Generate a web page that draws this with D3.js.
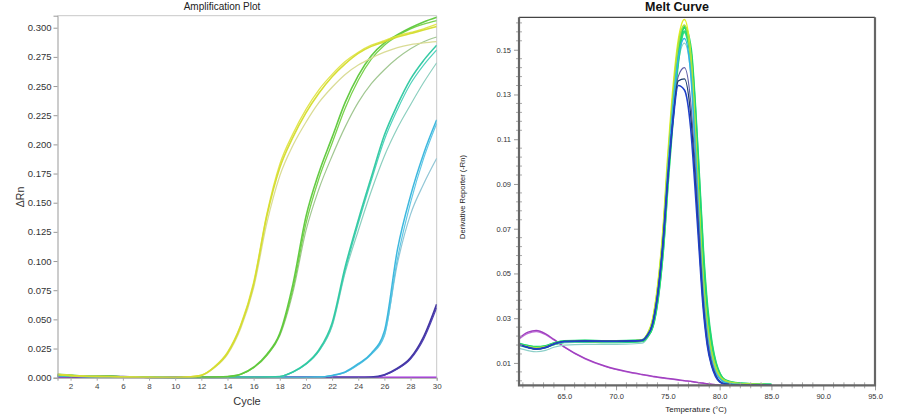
<!DOCTYPE html>
<html><head><meta charset="utf-8">
<script src="https://cdn.jsdelivr.net/npm/d3@7"></script>
<style>
html,body{margin:0;padding:0;background:#fff;}
svg{display:block;font-family:"Liberation Sans",Arial,sans-serif;}
</style></head>
<body>
<svg id="c" width="898" height="414"></svg>
<script>
// ---------- Amplification plot data ----------
const cycles = d3.range(1, 31);
const ampYTicks = [0, 0.025, 0.05, 0.075, 0.1, 0.125, 0.15, 0.175, 0.2, 0.225, 0.25, 0.275, 0.3];
const ampXTicks = [2,4,6,8,10,12,14,16,18,20,22,24,26,28,30];
const ampPurple    = [0.0004,0.0004,0.0003,0.0003,0.0004,0.0003,0.0003,0.0004,0.0005,0.0006,0.0007,0.0008,0.0008,0.0008,0.0007,0.0007,0.0006,0.0006,0.0006,0.0005,0.0005,0.0004,0.0004,0.0003,0.0003,0.0003,0.0003,0.0003,0.0003,0.0003];
const ampYellowA   = [0.0025,0.0018,0.0012,0.0010,0.0010,0.0006,0.0004,0.0003,0.0002,0.0002,0.0006,0.0020,0.0090,0.0210,0.0440,0.0800,0.1380,0.1800,0.2060,0.2270,0.2440,0.2580,0.2690,0.2780,0.2840,0.2880,0.2920,0.2950,0.2980,0.3010];
const ampYellowB   = [0.0030,0.0020,0.0014,0.0011,0.0009,0.0005,0.0004,0.0002,0.0002,0.0003,0.0007,0.0022,0.0095,0.0220,0.0450,0.0820,0.1400,0.1830,0.2090,0.2300,0.2470,0.2600,0.2710,0.2790,0.2850,0.2890,0.2930,0.2960,0.2990,0.3030];
const ampPaleYellow= [0.0028,0.0019,0.0013,0.0010,0.0010,0.0006,0.0004,0.0003,0.0002,0.0002,0.0005,0.0018,0.0085,0.0200,0.0420,0.0770,0.1320,0.1730,0.1990,0.2190,0.2360,0.2490,0.2600,0.2680,0.2740,0.2790,0.2830,0.2855,0.2870,0.2880];
const ampGreenA    = [0.0030,0.0022,0.0015,0.0012,0.0012,0.0007,0.0004,0.0003,0.0002,0.0002,0.0002,0.0003,0.0005,0.0010,0.0030,0.0090,0.0200,0.0380,0.0800,0.1380,0.1760,0.2060,0.2360,0.2590,0.2760,0.2870,0.2940,0.3000,0.3050,0.3090];
const ampGreenB    = [0.0026,0.0020,0.0014,0.0011,0.0013,0.0008,0.0005,0.0003,0.0002,0.0001,0.0002,0.0003,0.0005,0.0009,0.0028,0.0085,0.0190,0.0370,0.0760,0.1320,0.1710,0.2010,0.2310,0.2550,0.2730,0.2850,0.2930,0.2990,0.3030,0.3060];
const ampSageGreen = [0.0024,0.0019,0.0013,0.0011,0.0012,0.0007,0.0004,0.0003,0.0002,0.0002,0.0002,0.0003,0.0005,0.0009,0.0027,0.0085,0.0190,0.0360,0.0730,0.1260,0.1620,0.1900,0.2150,0.2360,0.2520,0.2640,0.2740,0.2820,0.2880,0.2920];
const ampTealA     = [0.0020,0.0016,0.0012,0.0010,0.0010,0.0006,0.0004,0.0003,0.0002,0.0001,0.0001,0.0002,0.0002,0.0002,0.0003,0.0003,0.0005,0.0010,0.0050,0.0120,0.0240,0.0470,0.0950,0.1350,0.1720,0.2080,0.2340,0.2560,0.2720,0.2850];
const ampTealB     = [0.0021,0.0017,0.0012,0.0010,0.0011,0.0006,0.0004,0.0003,0.0002,0.0001,0.0001,0.0002,0.0002,0.0002,0.0003,0.0003,0.0005,0.0010,0.0048,0.0115,0.0230,0.0450,0.0920,0.1320,0.1690,0.2040,0.2300,0.2520,0.2680,0.2810];
const ampPaleTeal  = [0.0019,0.0015,0.0011,0.0010,0.0010,0.0006,0.0004,0.0003,0.0002,0.0001,0.0001,0.0002,0.0002,0.0002,0.0003,0.0003,0.0005,0.0010,0.0048,0.0115,0.0230,0.0440,0.0900,0.1260,0.1600,0.1900,0.2140,0.2340,0.2530,0.2700];
const ampCyanA     = [0.0018,0.0014,0.0011,0.0009,0.0009,0.0005,0.0004,0.0003,0.0002,0.0001,0.0001,0.0001,0.0001,0.0002,0.0002,0.0002,0.0002,0.0002,0.0002,0.0003,0.0005,0.0020,0.0050,0.0120,0.0210,0.0400,0.1100,0.1560,0.1920,0.2210];
const ampCyanB     = [0.0017,0.0013,0.0010,0.0009,0.0009,0.0005,0.0004,0.0003,0.0002,0.0001,0.0001,0.0001,0.0001,0.0002,0.0002,0.0002,0.0002,0.0002,0.0002,0.0003,0.0005,0.0018,0.0045,0.0110,0.0200,0.0360,0.1020,0.1500,0.1880,0.2180];
const ampPaleCyan  = [0.0016,0.0013,0.0010,0.0009,0.0008,0.0005,0.0004,0.0003,0.0002,0.0001,0.0001,0.0001,0.0001,0.0002,0.0002,0.0002,0.0002,0.0002,0.0002,0.0003,0.0005,0.0018,0.0046,0.0112,0.0205,0.0370,0.0980,0.1400,0.1660,0.1880];
const ampIndigoA   = [0.0012,0.0010,0.0009,0.0010,0.0012,0.0008,0.0005,0.0004,0.0004,0.0002,0.0002,0.0002,0.0002,0.0002,0.0002,0.0002,0.0002,0.0002,0.0002,0.0002,0.0002,0.0002,0.0002,0.0002,0.0005,0.0025,0.0080,0.0170,0.0350,0.0630];
const ampIndigoB   = [0.0011,0.0010,0.0009,0.0010,0.0011,0.0008,0.0005,0.0004,0.0004,0.0002,0.0002,0.0002,0.0002,0.0002,0.0002,0.0002,0.0002,0.0002,0.0002,0.0002,0.0002,0.0002,0.0002,0.0002,0.0004,0.0022,0.0075,0.0160,0.0330,0.0600];

const ampSeries = [
  {values: ampPurple, color: "#a020e0", w: 1.5},
  {values: ampIndigoA, color: "#3a2c9e", w: 1.8},
  {values: ampIndigoB, color: "#4a3ab0", w: 1.2},
  {values: ampPaleCyan, color: "#8cc4d4", w: 1.2},
  {values: ampCyanB, color: "#58c4e4", w: 1.2},
  {values: ampCyanA, color: "#34b4dc", w: 1.5},
  {values: ampPaleTeal, color: "#86ccbc", w: 1.2},
  {values: ampTealB, color: "#48d0b8", w: 1.2},
  {values: ampTealA, color: "#2cc8a0", w: 1.6},
  {values: ampSageGreen, color: "#9cc48c", w: 1.2},
  {values: ampGreenB, color: "#74d046", w: 1.3},
  {values: ampGreenA, color: "#5cc83a", w: 1.6},
  {values: ampPaleYellow, color: "#d8da90", w: 1.3},
  {values: ampYellowB, color: "#e0e448", w: 1.3},
  {values: ampYellowA, color: "#d4dc2c", w: 1.6}
];

// ---------- Melt curve data ----------
const meltTemps = [60.6,61.5,62.3,63.2,64.0,65.0,67.0,69.0,71.0,72.5,73.0,73.5,74.0,74.5,75.0,75.5,76.0,76.6,77.2,77.6,78.0,78.4,78.8,79.2,79.6,80.0,80.5,81.5,83.0,85.0];
const meltYTicks = [0.01, 0.03, 0.05, 0.07, 0.09, 0.11, 0.13, 0.15];
const meltXTicks = [65, 70, 75, 80, 85, 90, 95];
const meltMagentaA = [0.0210,0.0238,0.0245,0.0230,0.0205,0.0172,0.0120,0.0085,0.0062,0.0049,0.0045,0.0041,0.0037,0.0034,0.0031,0.0028,0.0025,0.0021,0.0018,0.0015,0.0012,0.0010,0.0007,0.0005,0.0003,0.0001,0.0000,0.0000,0.0000,0.0000];
const meltMagentaB = [0.0205,0.0232,0.0240,0.0226,0.0202,0.0170,0.0118,0.0083,0.0060,0.0047,0.0043,0.0039,0.0035,0.0032,0.0029,0.0026,0.0023,0.0020,0.0017,0.0014,0.0011,0.0009,0.0006,0.0004,0.0002,0.0001,0.0000,0.0000,0.0000,0.0000];
const meltPaleTeal = [0.0165,0.0155,0.0150,0.0156,0.0170,0.0180,0.0183,0.0183,0.0184,0.0188,0.0210,0.0260,0.0390,0.0610,0.0930,0.1220,0.1440,0.1530,0.1400,0.1120,0.0780,0.0450,0.0250,0.0130,0.0070,0.0035,0.0015,0.0006,0.0003,0.0001];
const meltBlue     = [0.0184,0.0170,0.0163,0.0170,0.0185,0.0196,0.0198,0.0197,0.0198,0.0201,0.0222,0.0270,0.0400,0.0620,0.0930,0.1180,0.1340,0.1320,0.1150,0.0900,0.0620,0.0350,0.0180,0.0090,0.0040,0.0015,0.0005,0.0002,0.0001,0.0000];
const meltSlate    = [0.0182,0.0168,0.0161,0.0168,0.0184,0.0195,0.0197,0.0196,0.0197,0.0200,0.0221,0.0270,0.0400,0.0615,0.0920,0.1200,0.1380,0.1420,0.1270,0.1010,0.0700,0.0400,0.0210,0.0110,0.0050,0.0020,0.0007,0.0003,0.0001,0.0000];
const meltCyan     = [0.0180,0.0168,0.0162,0.0168,0.0184,0.0194,0.0196,0.0195,0.0196,0.0200,0.0222,0.0270,0.0400,0.0620,0.0960,0.1250,0.1460,0.1550,0.1400,0.1100,0.0740,0.0420,0.0230,0.0120,0.0060,0.0030,0.0012,0.0004,0.0002,0.0001];
const meltGreenA   = [0.0185,0.0175,0.0170,0.0174,0.0186,0.0196,0.0198,0.0196,0.0197,0.0200,0.0220,0.0265,0.0390,0.0610,0.0940,0.1240,0.1480,0.1600,0.1500,0.1250,0.0920,0.0580,0.0340,0.0190,0.0100,0.0050,0.0022,0.0009,0.0004,0.0001];
const meltGreenB   = [0.0183,0.0173,0.0168,0.0172,0.0185,0.0195,0.0197,0.0195,0.0196,0.0199,0.0219,0.0262,0.0385,0.0600,0.0925,0.1220,0.1460,0.1580,0.1480,0.1230,0.0900,0.0560,0.0320,0.0180,0.0095,0.0048,0.0020,0.0008,0.0004,0.0001];
const meltYellowGreen = [0.0181,0.0171,0.0166,0.0171,0.0185,0.0195,0.0197,0.0196,0.0197,0.0201,0.0226,0.0285,0.0430,0.0660,0.1000,0.1300,0.1520,0.1610,0.1470,0.1180,0.0820,0.0490,0.0280,0.0155,0.0085,0.0042,0.0020,0.0009,0.0005,0.0002];
const meltYellow   = [0.0182,0.0172,0.0168,0.0172,0.0185,0.0195,0.0197,0.0196,0.0197,0.0202,0.0228,0.0290,0.0440,0.0680,0.1030,0.1330,0.1540,0.1635,0.1480,0.1180,0.0820,0.0480,0.0270,0.0150,0.0080,0.0040,0.0020,0.0009,0.0005,0.0002];
const meltDark     = [0.0183,0.0169,0.0162,0.0169,0.0185,0.0196,0.0198,0.0197,0.0198,0.0201,0.0222,0.0270,0.0400,0.0618,0.0925,0.1190,0.1360,0.1370,0.1210,0.0950,0.0650,0.0370,0.0190,0.0095,0.0045,0.0017,0.0006,0.0002,0.0001,0.0000];

const meltSeries = [
  {values: meltMagentaB, color: "#c070d8", w: 1.2},
  {values: meltMagentaA, color: "#a040c0", w: 1.4},
  {values: meltPaleTeal, color: "#8ccfc8", w: 1.2},
  {values: meltGreenB, color: "#30dc80", w: 3},
  {values: meltGreenA, color: "#22d870", w: 3},
  {values: meltYellow, color: "#e4f020", w: 1.6},
  {values: meltYellowGreen, color: "#a8e040", w: 1.6},
  {values: meltCyan, color: "#30b4e4", w: 1.6},
  {values: meltSlate, color: "#6060a8", w: 1.2},
  {values: meltDark, color: "#1c3c6c", w: 1.3},
  {values: meltBlue, color: "#2040c8", w: 1.6}
];

const svg = d3.select("#c");

// ================= LEFT: Amplification Plot =================
const aL = 57.5, aR = 436.7, aT = 15.7, aB = 377.7;
const ax = d3.scaleLinear().domain([1, 30]).range([aL, aR]);
const ay = d3.scaleLinear().domain([0, 0.3103]).range([aB, aT]);

svg.append("text").attr("x", 222).attr("y", 10).attr("text-anchor", "middle")
  .attr("font-size", 10).attr("fill", "#222").text("Amplification Plot");

svg.append("defs").append("clipPath").attr("id", "clipA")
  .append("rect").attr("x", aL).attr("y", aT).attr("width", aR - aL).attr("height", aB - aT + 1);
svg.select("defs").append("clipPath").attr("id", "clipM")
  .append("rect").attr("x", 519).attr("y", 17.3).attr("width", 356).attr("height", 368);

svg.append("path").attr("d", `M${aL},${aT}H${aR}V${aB}`).attr("fill", "none")
  .attr("stroke", "#c8c8c8").attr("stroke-width", 1);

const ampLine = d3.line().x((d, i) => ax(cycles[i])).y(d => ay(d)).curve(d3.curveMonotoneX);
const gA = svg.append("g").attr("clip-path", "url(#clipA)");
gA.selectAll("path").data(ampSeries).join("path")
  .attr("d", d => ampLine(d.values)).attr("fill", "none")
  .attr("stroke", d => d.color).attr("stroke-width", d => d.w)
  .attr("stroke-linejoin", "round").attr("opacity", 0.95);

const ayAxis = svg.append("g").attr("transform", `translate(${aL},0)`)
  .call(d3.axisLeft(ay).tickValues(ampYTicks).tickFormat(d3.format(".3f")).tickSize(4).tickPadding(2));
ayAxis.select(".domain").attr("stroke", "#999");
ayAxis.selectAll(".tick line").attr("stroke", "#999");
ayAxis.selectAll("text").attr("font-size", 9.5).attr("fill", "#333").attr("font-family", "Liberation Sans, Arial, sans-serif");

const axAxis = svg.append("g").attr("transform", `translate(0,${aB})`)
  .call(d3.axisBottom(ax).tickValues(ampXTicks).tickFormat(d3.format("d")).tickSize(3).tickPadding(3));
axAxis.select(".domain").attr("stroke", "#999");
axAxis.selectAll(".tick line").attr("stroke", "#aaa");
axAxis.selectAll("text").attr("font-size", 8).attr("fill", "#444").attr("font-family", "Liberation Sans, Arial, sans-serif");

svg.append("text").attr("x", 247).attr("y", 405).attr("text-anchor", "middle")
  .attr("font-size", 11).attr("fill", "#333").text("Cycle");
svg.append("text").attr("transform", "translate(23.5,197) rotate(-90)").attr("text-anchor", "middle")
  .attr("font-size", 10.5).attr("fill", "#333").text("ΔRn");

// ================= RIGHT: Melt Curve =================
const mL = 519, mR = 875, mT = 17.3, mB = 385.3;
const mx = d3.scaleLinear().domain([60.63, 95]).range([mL, mR]);
const my = d3.scaleLinear().domain([0, 0.1645]).range([mB, mT]);

svg.append("text").attr("x", 677).attr("y", 11).attr("text-anchor", "middle")
  .attr("font-size", 12.5).attr("font-weight", "bold").attr("fill", "#111").text("Melt Curve");

const meltLine = d3.line().x((d, i) => mx(meltTemps[i])).y(d => my(d)).curve(d3.curveMonotoneX);
const gM = svg.append("g").attr("clip-path", "url(#clipM)");
gM.selectAll("path").data(meltSeries).join("path")
  .attr("d", d => meltLine(d.values)).attr("fill", "none")
  .attr("stroke", d => d.color).attr("stroke-width", d => d.w)
  .attr("stroke-linejoin", "round");

const minorY = d3.range(0.002, 0.1645, 0.004).filter(v => !meltYTicks.some(t => Math.abs(t - v) < 1e-6));
svg.append("g").selectAll("line").data(minorY).join("line")
  .attr("x1", mL - 3).attr("x2", mL + 3).attr("y1", d => my(d)).attr("y2", d => my(d))
  .attr("stroke", "#aaa").attr("stroke-width", 1);
const minorX = d3.range(61, 95, 1).filter(v => v % 5 !== 0);
svg.append("g").selectAll("line").data(minorX).join("line")
  .attr("x1", d => mx(d)).attr("x2", d => mx(d)).attr("y1", mB - 3).attr("y2", mB + 3)
  .attr("stroke", "#aaa").attr("stroke-width", 1);

const myAxis = svg.append("g").attr("transform", `translate(${mL},0)`)
  .call(d3.axisLeft(my).tickValues(meltYTicks).tickFormat(d3.format(".2f")).tickSize(5).tickPadding(3));
myAxis.select(".domain").remove();
myAxis.selectAll(".tick line").attr("stroke", "#999");
myAxis.selectAll("text").attr("font-size", 7.5).attr("fill", "#333").attr("font-family", "Liberation Sans, Arial, sans-serif");

const mxAxis = svg.append("g").attr("transform", `translate(0,${mB})`)
  .call(d3.axisBottom(mx).tickValues(meltXTicks).tickFormat(d3.format(".1f")).tickSize(5).tickPadding(3));
mxAxis.select(".domain").remove();
mxAxis.selectAll(".tick line").attr("stroke", "#999");
mxAxis.selectAll("text").attr("font-size", 7.5).attr("fill", "#333").attr("font-family", "Liberation Sans, Arial, sans-serif");

svg.append("path").attr("d", `M${mL},${mT}H${mR}`).attr("stroke", "#444").attr("stroke-width", 1.2).attr("fill", "none");
svg.append("path").attr("d", `M${mL},${mT}V${mB}H${mR}V${mT}`).attr("stroke", "#666").attr("stroke-width", 2.2).attr("fill", "none");

svg.append("text").attr("x", 696).attr("y", 412).attr("text-anchor", "middle")
  .attr("font-size", 8).attr("fill", "#222").text("Temperature (°C)");
svg.append("text").attr("transform", "translate(465,197) rotate(-90)").attr("text-anchor", "middle")
  .attr("font-size", 7.5).attr("fill", "#222").attr("font-family", "Liberation Sans Narrow, Liberation Sans, sans-serif").text("Derivative Reporter (-Rn)");
</script>
</body></html>
